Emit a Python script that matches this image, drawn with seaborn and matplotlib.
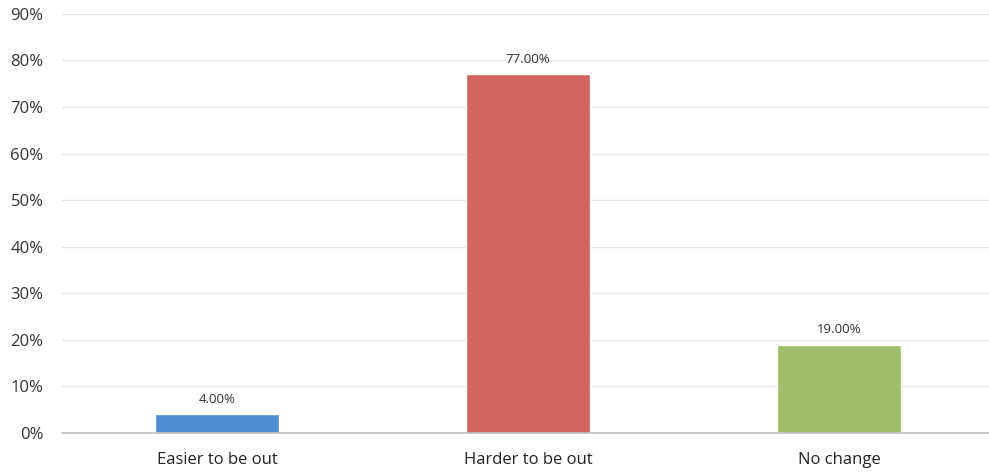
import matplotlib
matplotlib.use("Agg")
import matplotlib.pyplot as plt
import pandas as pd
import seaborn as sns
from matplotlib.ticker import PercentFormatter

categories = ["Easier to be out", "Harder to be out", "No change"]
shares = [0.04, 0.77, 0.19]
bar_colors = ["#4F8DD3", "#D4635B", "#9DBF67"]

df = pd.DataFrame({"category": categories, "share": shares})

sns.set_style("white")
plt.rcParams["font.family"] = ["Open Sans", "DejaVu Sans"]

fig = plt.figure(figsize=(9.89, 4.72), dpi=100)
ax = fig.add_axes([0.0622, 0.0826, 0.9435, 0.888])

sns.barplot(
    data=df,
    x="category",
    y="share",
    hue="category",
    palette=bar_colors,
    saturation=1,
    width=0.4,
    legend=False,
    ax=ax,
)

for p, v in zip(ax.patches, shares):
    ax.annotate(
        f"{v * 100:.2f}%",
        (p.get_x() + p.get_width() / 2, v),
        xytext=(0, 6),
        textcoords="offset points",
        ha="center",
        va="bottom",
        fontsize=9.5,
        color="#333333",
    )

ax.set_ylim(0, 0.9)
ax.set_xlim(-0.5, 2.5)
ax.set_yticks([i / 10 for i in range(10)])
ax.yaxis.set_major_formatter(PercentFormatter(1.0, decimals=0))
ax.yaxis.grid(True, color="#E6E6E6", linewidth=1)
ax.set_axisbelow(True)
ax.set_xlabel("")
ax.set_ylabel("")
ax.tick_params(axis="y", labelsize=12, colors="#333333", length=0, pad=13)
ax.tick_params(axis="x", labelsize=12, colors="#222222", length=0, pad=14)
for side in ["top", "right", "left"]:
    ax.spines[side].set_visible(False)
ax.spines["bottom"].set_color("#BFBFBF")
ax.spines["bottom"].set_linewidth(1.2)

fig.savefig("out.png", dpi=100)
